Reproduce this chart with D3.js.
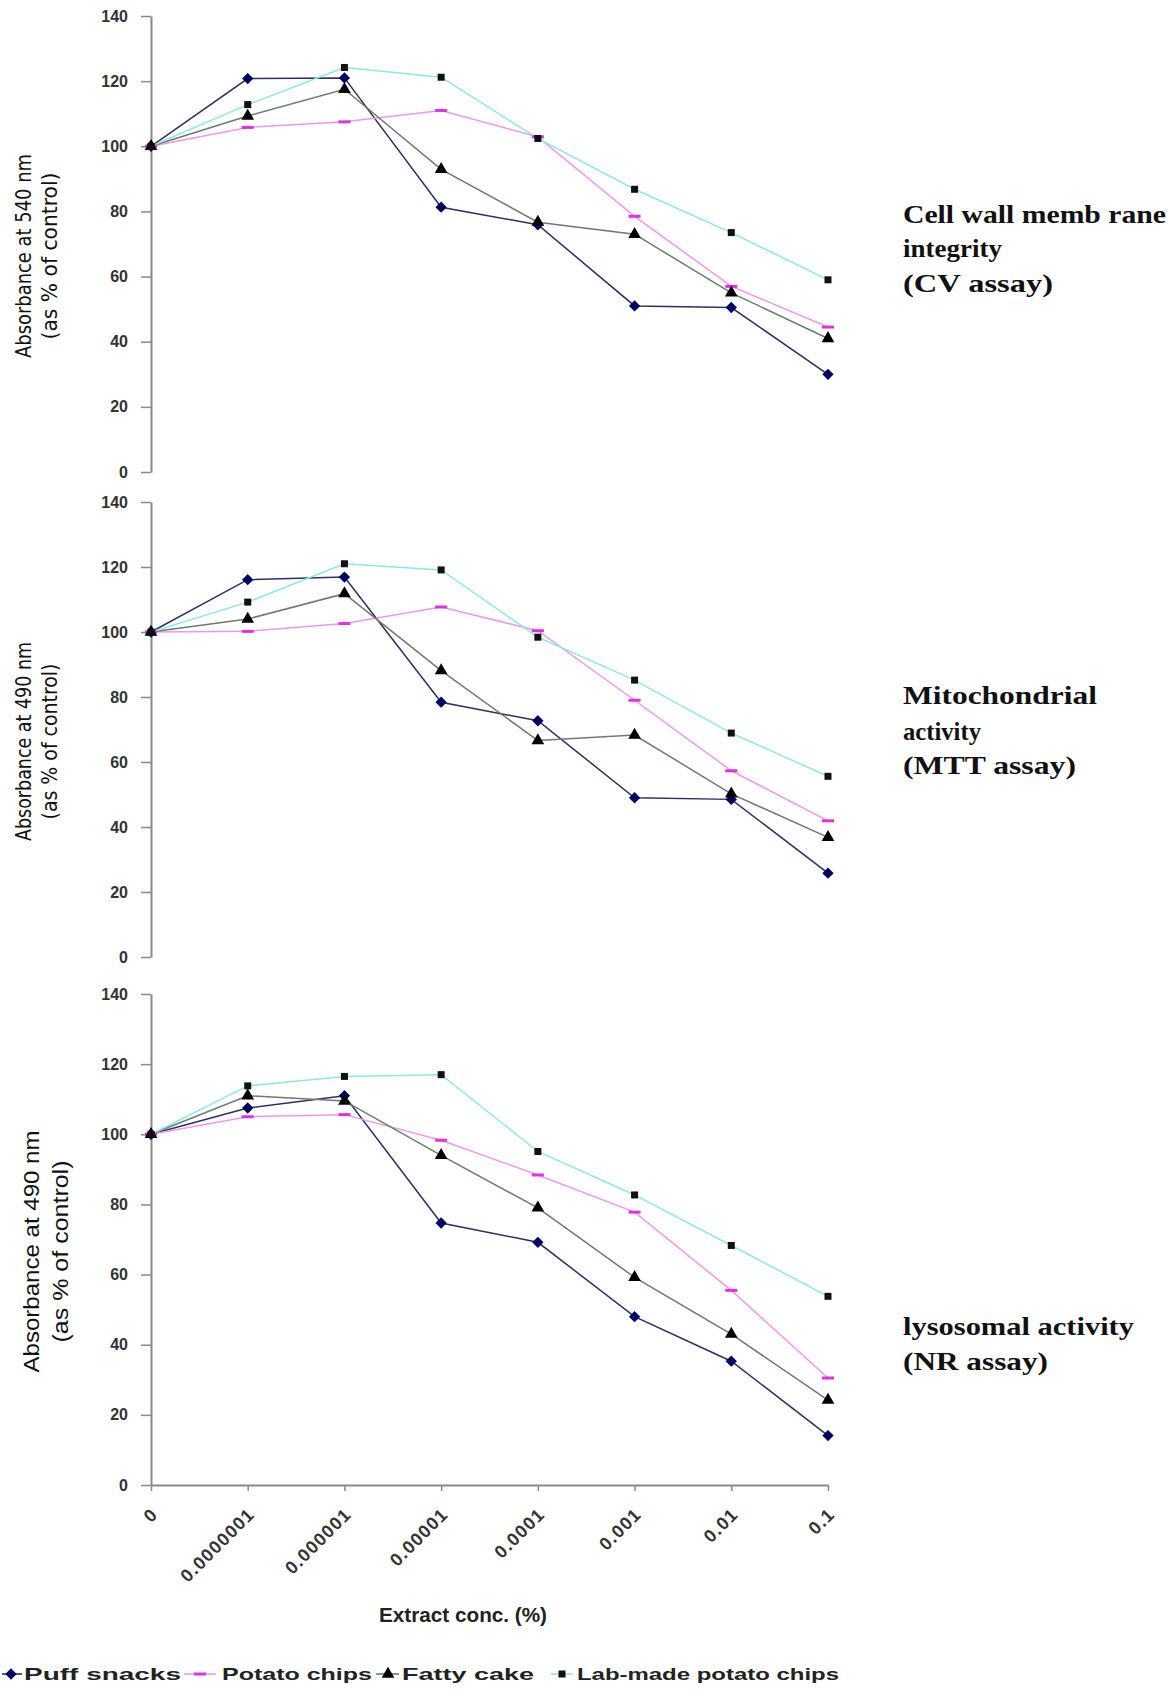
<!DOCTYPE html>
<html>
<head>
<meta charset="utf-8">
<script src="https://cdn.jsdelivr.net/npm/d3@7/dist/d3.min.js"></script>
<style>
  html, body { margin: 0; padding: 0; background: #fff; }
  svg { display: block; }
</style>
</head>
<body>
<svg id="chart" width="1176" height="1690"></svg>
<script>
// ---------------- DATA ----------------
const categories = ["0", "0.0000001", "0.000001", "0.00001", "0.0001", "0.001", "0.01", "0.1"];
const seriesNames = ["Puff snacks", "Potato chips", "Fatty cake", "Lab-made  potato chips"];
const yTicks = [0, 20, 40, 60, 80, 100, 120, 140];

// CV assay (cell wall membrane integrity)
const cvPuff   = [100, 120.8, 121.0, 81.3, 75.9, 51.0, 50.5, 30.0];
const cvPotato = [100, 105.8, 107.5, 111.0, 102.9, 78.5, 57.0, 44.5];
const cvFatty  = [100, 109.3, 117.5, 92.9, 76.7, 73.0, 55.0, 41.0];
const cvLab    = [100, 112.8, 124.2, 121.2, 102.4, 86.8, 73.5, 59.0];

// MTT assay (mitochondrial activity)
const mttPuff   = [100, 116.1, 116.9, 78.4, 72.7, 49.0, 48.5, 25.8];
const mttPotato = [100, 100.2, 102.6, 107.7, 100.4, 79.0, 57.3, 41.9];
const mttFatty  = [100, 104.0, 111.8, 88.1, 66.6, 68.3, 50.2, 36.8];
const mttLab    = [100, 109.2, 121.0, 119.1, 98.4, 85.2, 68.9, 55.6];

// NR assay (lysosomal activity)
const nrPuff   = [100, 107.5, 111.0, 74.7, 69.2, 48.0, 35.3, 14.1];
const nrPotato = [100, 105.0, 105.6, 98.3, 88.4, 77.8, 55.5, 30.5];
const nrFatty  = [100, 111.0, 109.5, 94.0, 79.0, 59.2, 43.0, 24.2];
const nrLab    = [100, 113.8, 116.5, 117.0, 95.1, 82.7, 68.3, 53.8];

const yTitles = [
  ["Absorbance at 540 nm", "(as % of control)"],
  ["Absorbance at 490 nm", "(as % of control)"],
  ["Absorbance at 490 nm", "(as % of control)"]
];
const sideLabels = [
  ["Cell wall memb rane", "integrity", "(CV assay)"],
  ["Mitochondrial", "activity", "(MTT assay)"],
  ["lysosomal activity", "(NR assay)"]
];
const xTitle = "Extract conc. (%)";

// ---------------- STYLE / LAYOUT ----------------
const styles = [
  { line: "#2e2e66", marker: "#000066", shape: "diamond" },
  { line: "#f096f0", marker: "#e030e0", shape: "dash" },
  { line: "#6a7c6a", marker: "#000000", shape: "triangle" },
  { line: "#8ce8e8", marker: "#111111", shape: "square" }
];

const panels = [
  { series: [cvPuff, cvPotato, cvFatty, cvLab], top: 16, bottom: 472, xAxis: false,
    titleX: [24, 50], titleLen: [204, 167], titleFont: "'Liberation Sans Narrow', 'DejaVu Sans Condensed', sans-serif", titleSize: 21,
    side: { x: 903, y: [223, 257, 292], len: [263, 99, 150] } },
  { series: [mttPuff, mttPotato, mttFatty, mttLab], top: 502, bottom: 957, xAxis: false,
    titleX: [24, 50], titleLen: [199, 156], titleFont: "'Liberation Sans Narrow', 'DejaVu Sans Condensed', sans-serif", titleSize: 21,
    side: { x: 903, y: [704, 740, 774], len: [194, 78, 173] } },
  { series: [nrPuff, nrPotato, nrFatty, nrLab], top: 994, bottom: 1485, xAxis: true,
    titleX: [32, 61], titleLen: [242, 182], titleFont: "'Liberation Sans', Arial, sans-serif", titleSize: 22,
    side: { x: 903, y: [1335, 1370], len: [231, 145] } }
];

const svg = d3.select("#chart");
const axisX = 151;
const x = d3.scalePoint().domain(categories).range([axisX, 828]).padding(0);

function drawMarker(g, shape, color, cx, cy) {
  if (shape === "diamond") {
    g.append("rect").attr("x", -4).attr("y", -4).attr("width", 8).attr("height", 8)
      .attr("transform", `translate(${cx},${cy}) rotate(45)`).attr("fill", color);
  } else if (shape === "triangle") {
    g.append("path").attr("d", d3.symbol().type(d3.symbolTriangle).size(70)())
      .attr("transform", `translate(${cx},${cy})`).attr("fill", color);
  } else if (shape === "square") {
    g.append("rect").attr("x", cx - 3.5).attr("y", cy - 3.5).attr("width", 7).attr("height", 7).attr("fill", color);
  } else if (shape === "dash") {
    g.append("rect").attr("x", cx - 6).attr("y", cy - 1.5).attr("width", 12).attr("height", 3).attr("fill", color);
  }
}

panels.forEach((p, pi) => {
  const y = d3.scaleLinear().domain([0, 140]).range([p.bottom, p.top]);
  const g = svg.append("g");

  // y axis
  const ya = g.append("g").attr("transform", `translate(${axisX},0)`)
    .call(d3.axisLeft(y).tickValues(yTicks).tickSize(10).tickSizeOuter(0).tickPadding(13));
  ya.select(".domain").attr("stroke", "#8a8a8a").attr("stroke-width", 2);
  ya.selectAll(".tick line").attr("stroke", "#8a8a8a").attr("stroke-width", 1.5);
  ya.selectAll(".tick text").attr("font-family", "'Liberation Sans', Arial, sans-serif")
    .attr("font-size", 16).attr("font-weight", "bold").attr("fill", "#333");

  // x axis on last panel
  if (p.xAxis) {
    const xa = g.append("g").attr("transform", `translate(0,${p.bottom})`)
      .call(d3.axisBottom(x).tickSize(6).tickSizeOuter(0).tickPadding(0));
    xa.select(".domain").attr("stroke", "#8a8a8a").attr("stroke-width", 2);
    xa.selectAll(".tick line").attr("stroke", "#8a8a8a").attr("stroke-width", 1.5);
    xa.selectAll(".tick text")
      .attr("font-family", "'Liberation Sans', Arial, sans-serif")
      .attr("font-size", 18).attr("font-weight", "bold").attr("fill", "#333")
      .attr("letter-spacing", "1.2px")
      .attr("text-anchor", "end")
      .attr("y", 0).attr("dy", "0.35em")
      .attr("transform", "translate(3,26) rotate(-45)");
  }

  // lines
  p.series.forEach((vals, si) => {
    const st = styles[si];
    const line = d3.line().x((d, i) => x(categories[i])).y(d => y(d));
    g.append("path").datum(vals).attr("d", line)
      .attr("fill", "none").attr("stroke", st.line).attr("stroke-width", 1.5);
  });
  p.series.forEach((vals, si) => {
    const st = styles[si];
    vals.forEach((v, i) => drawMarker(g, st.shape, st.marker, x(categories[i]), y(v)));
  });

  // y title
  const cy = (p.top + p.bottom) / 2 + 12;
  yTitles[pi].forEach((t, li) => {
    g.append("text")
      .attr("transform", `translate(${p.titleX[li] + 7},${cy}) rotate(-90)`)
      .attr("text-anchor", "middle")
      .attr("font-family", p.titleFont).attr("font-size", p.titleSize)
      .attr("fill", "#111")
      .attr("textLength", p.titleLen[li]).attr("lengthAdjust", "spacingAndGlyphs")
      .text(t);
  });

  // side labels
  sideLabels[pi].forEach((t, li) => {
    g.append("text")
      .attr("x", p.side.x).attr("y", p.side.y[li])
      .attr("font-family", "'Liberation Serif', 'Times New Roman', serif")
      .attr("font-size", 26).attr("font-weight", "bold").attr("fill", "#111")
      .attr("textLength", p.side.len[li]).attr("lengthAdjust", "spacingAndGlyphs")
      .text(t);
  });
});

// x title
svg.append("text").attr("x", 463).attr("y", 1622).attr("text-anchor", "middle")
  .attr("font-family", "'Liberation Sans', Arial, sans-serif").attr("font-size", 20)
  .attr("font-weight", "bold").attr("fill", "#222")
  .attr("textLength", 168).attr("lengthAdjust", "spacingAndGlyphs")
  .text(xTitle);

// legend
const legendItems = [
  { lx1: 2, lx2: 22, mx: 11, tx: 24, tl: 157 },
  { lx1: 184, lx2: 216, mx: 200, tx: 222, tl: 150 },
  { lx1: 376, lx2: 399, mx: 388, tx: 402, tl: 132 },
  { lx1: 551, lx2: 573, mx: 562, tx: 577, tl: 262 }
];
const ly = 1674;
const lg = svg.append("g");
legendItems.forEach((it, i) => {
  const st = styles[i];
  lg.append("line").attr("x1", it.lx1).attr("x2", it.lx2).attr("y1", ly).attr("y2", ly)
    .attr("stroke", st.line).attr("stroke-width", 1.6);
  drawMarker(lg, st.shape, st.marker, it.mx, ly);
  lg.append("text").attr("x", it.tx).attr("y", ly + 6)
    .attr("font-family", "'Liberation Sans', Arial, sans-serif").attr("font-size", 17)
    .attr("font-weight", "bold").attr("fill", "#222")
    .attr("textLength", it.tl).attr("lengthAdjust", "spacingAndGlyphs")
    .text(seriesNames[i]);
});
</script>
</body>
</html>
